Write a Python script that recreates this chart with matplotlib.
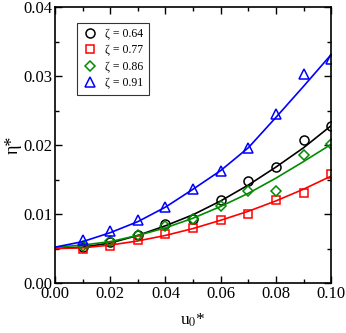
import numpy as np
import matplotlib
matplotlib.use("Agg")
import matplotlib.pyplot as plt
from matplotlib.ticker import MultipleLocator

plt.rcParams['font.family'] = ['Liberation Serif', 'DejaVu Serif']
plt.rcParams['mathtext.fontset'] = 'stix'

# simulation points
u_pts = [0.01, 0.02, 0.03, 0.04, 0.05, 0.06, 0.07, 0.08, 0.09, 0.10]
eta_064 = [0.0052, 0.0060, 0.0070, 0.0085, 0.0093, 0.0120, 0.0148, 0.0168, 0.0207, 0.0228]
eta_077 = [0.0050, 0.0054, 0.0062, 0.0071, 0.0080, 0.0092, 0.0100, 0.0120, 0.0131, 0.0158]
eta_086 = [0.0053, 0.0061, 0.0069, 0.0083, 0.0093, 0.0112, 0.0134, 0.0134, 0.0185, 0.0202]
eta_091 = [0.0062, 0.0076, 0.0091, 0.0110, 0.0136, 0.0162, 0.0195, 0.0245, 0.0303, 0.0325]

# theory curves
u_line = [0.0, 0.01, 0.02, 0.03, 0.04, 0.05, 0.06, 0.07, 0.08, 0.09, 0.10]
th_064 = [0.0050, 0.0052, 0.0058, 0.0069, 0.0083, 0.0099, 0.0119, 0.0142, 0.0168, 0.0196, 0.0228]
th_077 = [0.0050, 0.0051, 0.0055, 0.0061, 0.0069, 0.0079, 0.0091, 0.0104, 0.0119, 0.0136, 0.0155]
th_086 = [0.0052, 0.0055, 0.0060, 0.0069, 0.0080, 0.0094, 0.0111, 0.0130, 0.0152, 0.0176, 0.0201]
th_091 = [0.0052, 0.0060, 0.0073, 0.0089, 0.0110, 0.0136, 0.0163, 0.0196, 0.0240, 0.0285, 0.0331]

labels = ["ζ = 0.64", "ζ = 0.77", "ζ = 0.86", "ζ = 0.91"]
colors = ["black", "red", "#008c00", "blue"]
markers = ["o", "s", "D", "^"]
msizes = [6.5, 6, 4.8, 6.5]

fig = plt.figure(figsize=(3.46, 3.33), dpi=100)
ax = fig.add_axes([0.159, 0.150, 0.798, 0.829])

for th, pts, lab, c, m, ms in zip([th_064, th_077, th_086, th_091],
                                  [eta_064, eta_077, eta_086, eta_091],
                                  labels, colors, markers, msizes):
    ax.plot(u_line, th, color=c, lw=1.2)
    ax.plot(u_pts, pts, ls="none", marker=m, ms=ms, mfc="none", mec=c,
            mew=1.1, label=lab)

ax.set_xlim(0, 0.10)
ax.set_ylim(0, 0.04)
ax.xaxis.set_major_locator(MultipleLocator(0.02))
ax.xaxis.set_minor_locator(MultipleLocator(0.01))
ax.yaxis.set_major_locator(MultipleLocator(0.01))
ax.yaxis.set_minor_locator(MultipleLocator(0.005))
ax.xaxis.set_major_formatter(plt.FormatStrFormatter('%.2f'))
ax.yaxis.set_major_formatter(plt.FormatStrFormatter('%.2f'))
ax.tick_params(which='both', direction='in', top=True, right=True, labelsize=12, width=1)
ax.tick_params(which='major', length=5, pad=2)
ax.tick_params(which='minor', length=3)
for s in ax.spines.values():
    s.set_linewidth(1.2)

ax.set_xlabel(r"u$_0$*", fontsize=12.5, labelpad=7)
ax.set_ylabel("η*", fontsize=13, va="center")
ax.yaxis.set_label_coords(-0.15, 0.5)

leg = ax.legend(loc="upper left", bbox_to_anchor=(0.06, 0.965), fontsize=8.5,
                frameon=True, fancybox=False, edgecolor="black",
                handletextpad=0.6, borderpad=0.5, labelspacing=0.35,
                handlelength=1.2)
leg.get_frame().set_linewidth(0.8)

fig.savefig("out.png", dpi=100)
